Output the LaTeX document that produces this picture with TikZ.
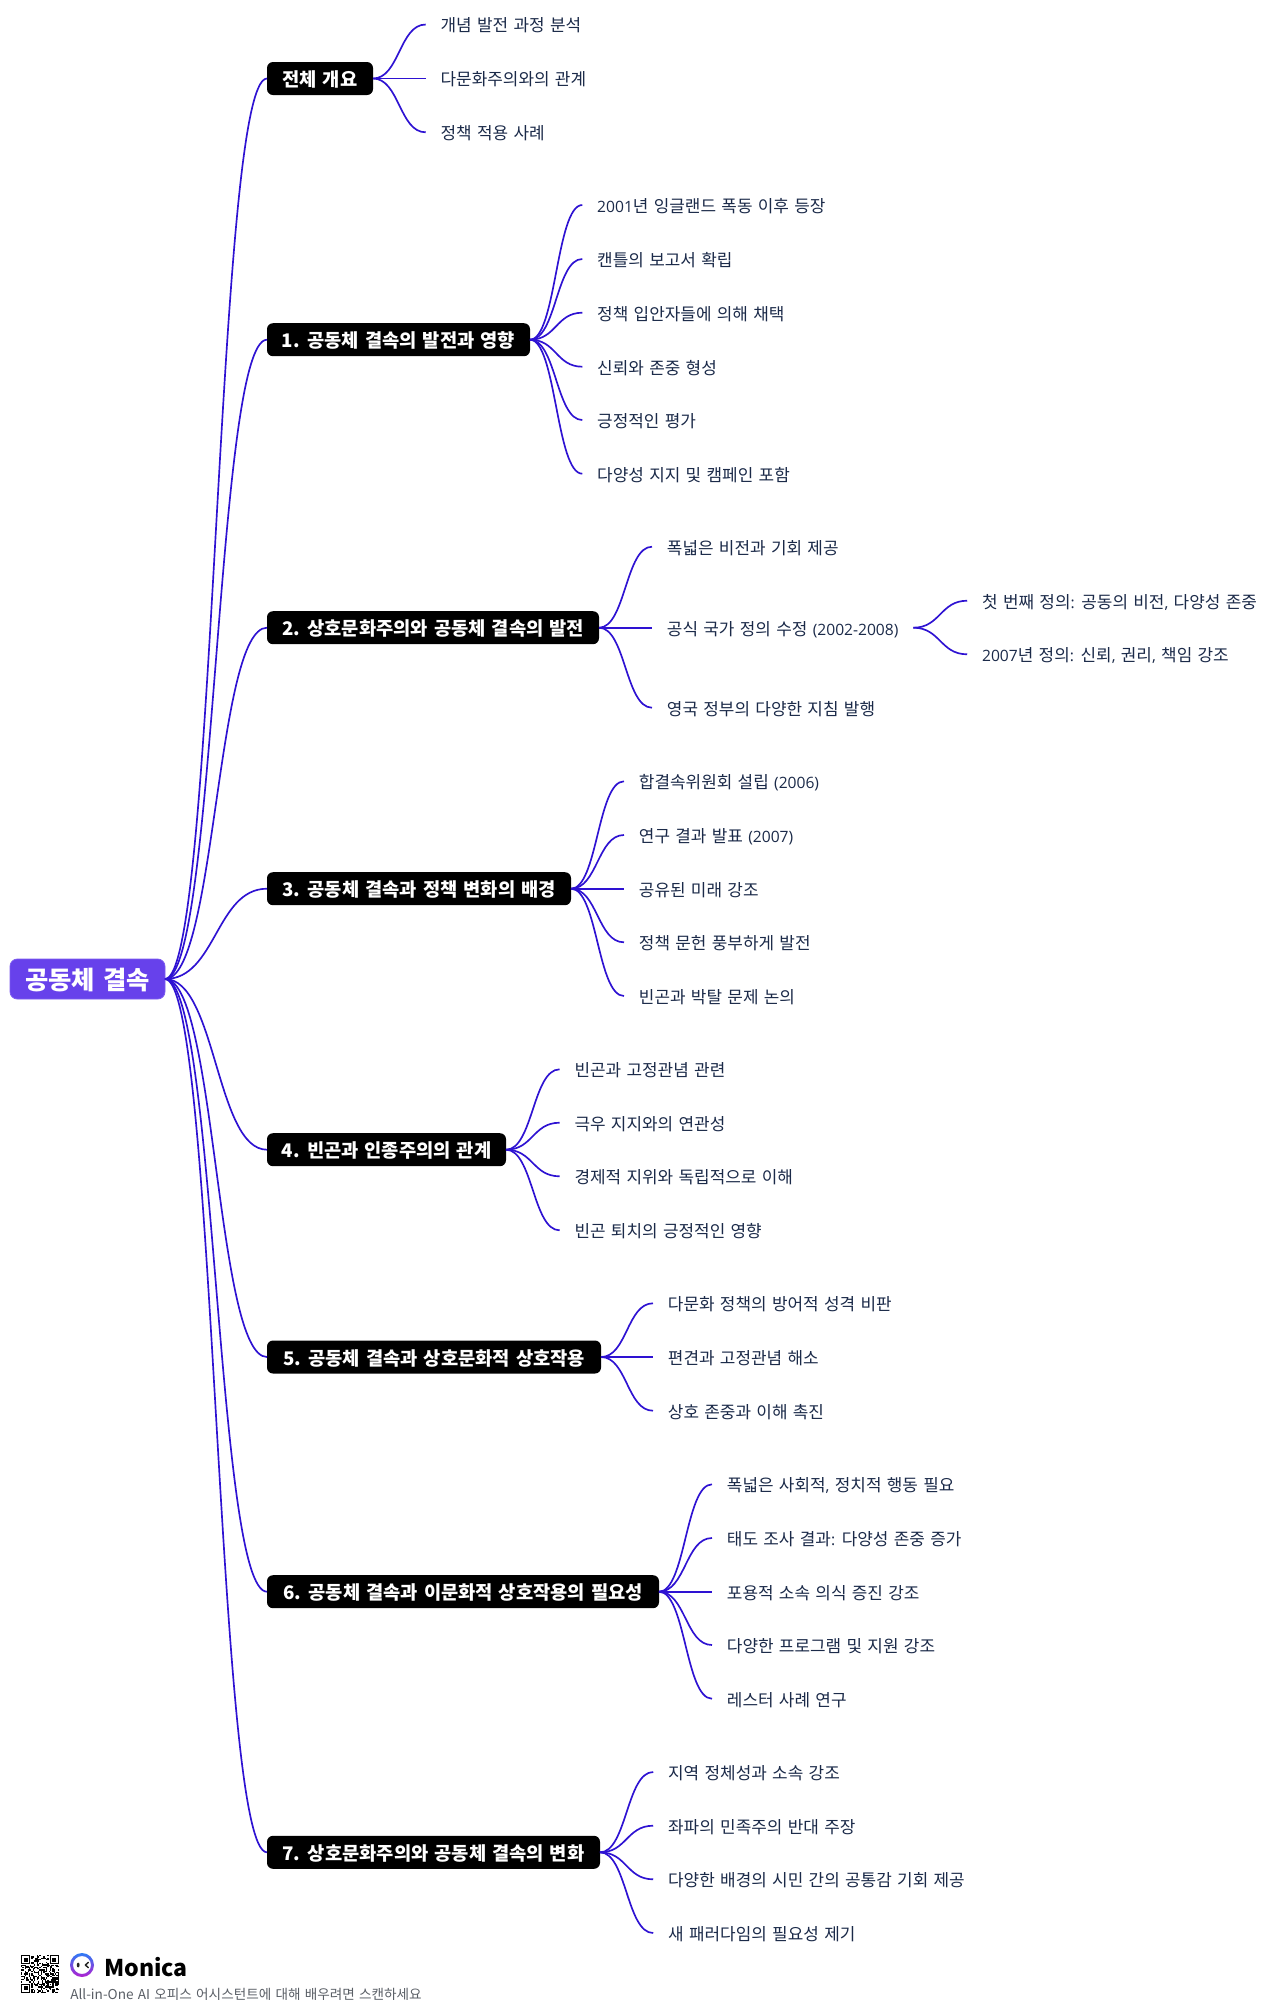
\documentclass[tikz,border=0pt]{standalone}
\usepackage{fontspec}
\setmainfont[WordSpace=1.4]{Noto Sans CJK KR}
\newfontfamily\latfont{Open Sans}
\newcommand{\lat}[1]{{\latfont\fontsize{11.7}{13}\selectfont #1}}
\usetikzlibrary{calc,positioning}
\definecolor{rootfill}{HTML}{6741EB}
\definecolor{rootedge}{HTML}{7D5CF0}
\definecolor{linkcol}{HTML}{2E12D2}
\definecolor{leafink}{HTML}{1B2A49}
\definecolor{capink}{HTML}{5A5F66}
\definecolor{ringa}{HTML}{2F7BF5}
\definecolor{ringb}{HTML}{B020D0}
\tikzset{
  rootbox/.style={rectangle,rounded corners=5.5pt,fill=rootfill,draw=rootedge,line width=.6pt,text=white,
    font=\fontsize{19}{19}\selectfont\bfseries,text height=17.5pt,text depth=2.1pt,inner sep=0pt,outer sep=0pt,
    minimum width=116.25pt,minimum height=30pt,anchor=west},
  branchbox/.style={rectangle,rounded corners=4.5pt,fill=black,text=white,
    font=\fontsize{14.05}{14.4}\selectfont\bfseries,text height=12.7pt,text depth=.4pt,inner sep=0pt,outer sep=0pt,
    minimum width=#1*0.75pt,minimum height=24.75pt,anchor=west},
  leaf/.style={rectangle,text=leafink,font=\fontsize{12.7}{13}\selectfont,text height=12.1pt,text depth=.9pt,
    inner xsep=11.2pt,inner ysep=0pt,outer sep=0pt,anchor=west},
  conn/.style={draw=linkcol,line width=1.25pt}
}
\begin{document}
\begin{tikzpicture}[x=0.75pt,y=-0.75pt]
\useasboundingbox (0,0) rectangle (1280,2007);
\fill[white] (0,0) rectangle (1280,2007);
\node[rootbox] (root) at (10,979) {공동체 결속};
\node[branchbox=106] (b0) at (267,78.5) {전체 개요};
\node[branchbox=263] (b1) at (267,339.7) {1. 공동체 결속의 발전과 영향};
\node[branchbox=332] (b2) at (267,627.7) {2. 상호문화주의와 공동체 결속의 발전};
\node[branchbox=304] (b3) at (267,888.7) {3. 공동체 결속과 정책 변화의 배경};
\node[branchbox=239] (b4) at (267,1149.7) {4. 빈곤과 인종주의의 관계};
\node[branchbox=334] (b5) at (267,1357) {5. 공동체 결속과 상호문화적 상호작용};
\node[branchbox=392] (b6) at (267,1591.7) {6. 공동체 결속과 이문화적 상호작용의 필요성};
\node[branchbox=333] (b7) at (267,1852.3) {7. 상호문화주의와 공동체 결속의 변화};
% leaves
\node[leaf] (a1) at (425.7,24.5) {개념 발전 과정 분석};
\node[leaf] (a2) at (425.7,78.5) {다문화주의와의 관계};
\node[leaf] (a3) at (425.7,132.3) {정책 적용 사례};
\node[leaf] (c1) at (582.3,205) {\lat{2001}년 잉글랜드 폭동 이후 등장};
\node[leaf] (c2) at (582.3,259) {캔틀의 보고서 확립};
\node[leaf] (c3) at (582.3,312.7) {정책 입안자들에 의해 채택};
\node[leaf] (c4) at (582.3,366.7) {신뢰와 존중 형성};
\node[leaf] (c5) at (582.3,420) {긍정적인 평가};
\node[leaf] (c6) at (582.3,473.7) {다양성 지지 및 캠페인 포함};
\node[leaf] (d1) at (652,546.7) {폭넓은 비전과 기회 제공};
\node[leaf] (d2) at (652,627.7) {공식 국가 정의 수정 \lat{(2002-2008)}};
\node[leaf] (d3) at (652,707.7) {영국 정부의 다양한 지침 발행};
\node[leaf] (e1) at (967.2,600.7) {첫 번째 정의\lat{:} 공동의 비전\lat{,} 다양성 존중};
\node[leaf] (e2) at (967.2,654.3) {\lat{2007}년 정의\lat{:} 신뢰\lat{,} 권리\lat{,} 책임 강조};
\node[leaf] (f1) at (624,781.3) {합결속위원회 설립 \lat{(2006)}};
\node[leaf] (f2) at (624,835) {연구 결과 발표 \lat{(2007)}};
\node[leaf] (f3) at (624,888.7) {공유된 미래 강조};
\node[leaf] (f4) at (624,942.3) {정책 문헌 풍부하게 발전};
\node[leaf] (f5) at (624,996) {빈곤과 박탈 문제 논의};
\node[leaf] (g1) at (559.6,1069.3) {빈곤과 고정관념 관련};
\node[leaf] (g2) at (559.6,1122.7) {극우 지지와의 연관성};
\node[leaf] (g3) at (559.6,1176.3) {경제적 지위와 독립적으로 이해};
\node[leaf] (g4) at (559.6,1230.3) {빈곤 퇴치의 긍정적인 영향};
\node[leaf] (h1) at (653,1303.3) {다문화 정책의 방어적 성격 비판};
\node[leaf] (h2) at (653,1357) {편견과 고정관념 해소};
\node[leaf] (h3) at (653,1410.7) {상호 존중과 이해 촉진};
\node[leaf] (i1) at (712,1484.3) {폭넓은 사회적\lat{,} 정치적 행동 필요};
\node[leaf] (i2) at (712,1538) {태도 조사 결과\lat{:} 다양성 존중 증가};
\node[leaf] (i3) at (712,1591.7) {포용적 소속 의식 증진 강조};
\node[leaf] (i4) at (712,1645) {다양한 프로그램 및 지원 강조};
\node[leaf] (i5) at (712,1698.7) {레스터 사례 연구};
\node[leaf] (j1) at (653.2,1772) {지역 정체성과 소속 강조};
\node[leaf] (j2) at (653.2,1825.7) {좌파의 민족주의 반대 주장};
\node[leaf] (j3) at (653.2,1879.3) {다양한 배경의 시민 간의 공통감 기회 제공};
\node[leaf] (j4) at (653.2,1933) {새 패러다임의 필요성 제기};
% connectors
\foreach \src/\dst in {root/b0,root/b1,root/b2,root/b3,root/b4,root/b5,root/b6,root/b7,
  b0/a1,b0/a2,b0/a3,
  b1/c1,b1/c2,b1/c3,b1/c4,b1/c5,b1/c6,
  b2/d1,b2/d2,b2/d3,d2/e1,d2/e2,
  b3/f1,b3/f2,b3/f3,b3/f4,b3/f5,
  b4/g1,b4/g2,b4/g3,b4/g4,
  b5/h1,b5/h2,b5/h3,
  b6/i1,b6/i2,b6/i3,b6/i4,b6/i5,
  b7/j1,b7/j2,b7/j3,b7/j4}{
  \draw[conn] let \p1=(\src.east),\p2=(\dst.west),\n1={(\x2-\x1)/2} in
    (\p1) .. controls (\x1+\n1,\y1) and (\x2-\n1,\y2) .. (\p2);
}
% footer: QR
\begin{scope}[shift={(21,1955)},x=0.9825pt,y=-0.9825pt]
  \pgfmathsetseed{4217}
  \foreach \r in {0,...,28}{\foreach \c in {0,...,28}{
    \pgfmathparse{rnd}
    \ifdim\pgfmathresult pt<0.5pt \fill[black] (\c,\r) rectangle ++(1,1);\fi
  }}
  \foreach \ox/\oy in {0/0,22/0,0/22}{
    \fill[white] (\ox-.5,\oy-.5) rectangle ++(8,8);
    \fill[black] (\ox,\oy) rectangle ++(7,7);
    \fill[white] (\ox+1,\oy+1) rectangle ++(5,5);
    \fill[black] (\ox+2,\oy+2) rectangle ++(3,3);
  }
  \fill[black] (20,20) rectangle ++(5,5);
  \fill[white] (21,21) rectangle ++(3,3);
  \fill[black] (22,22) rectangle ++(1,1);
\end{scope}
% footer: logo
\shade[even odd rule,shading angle=-45,top color=ringa,bottom color=ringb]
  (82,1965) circle[radius=12] (82,1965) circle[radius=9];
\fill[black!85] (78.2,1965) ellipse[x radius=1.4,y radius=2.4];
\draw[black!85,line width=1.1pt,line cap=round,line join=round] (88.3,1962.4) -- (85.4,1965) -- (88.3,1967.6);
\node[inner sep=0pt,anchor=base west,font=\fontsize{17.3}{18}\selectfont\bfseries] (brand) at (104,1976) {Monica};
\begin{scope}
  \clip (60,1980) rectangle (500,1999.5);
  \node[inner sep=0pt,anchor=base west,text=capink,font=\fontsize{10.2}{10.4}\selectfont] (cap) at (70,1999) {All-in-One AI 오피스 어시스턴트에 대해 배우려면 스캔하세요};
\end{scope}
\end{tikzpicture}
\end{document}
